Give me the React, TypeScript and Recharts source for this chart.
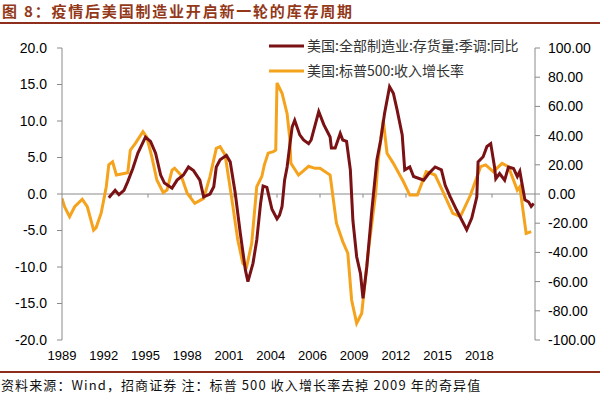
import React from 'react';
import { LineChart, Line, XAxis, YAxis, ReferenceLine } from 'recharts';

// x values are month indices along the axis (0 = left edge of the plot)
const xTickLabels = ['1989', '1992', '1995', '1998', '2001', '2004', '2006', '2009', '2012', '2015', '2018'];
const xTickMonths = [0, 33, 66, 99, 132, 165, 198, 231, 264, 297, 330];
const zeroLineTickMonths = [34, 68, 102, 136, 170, 204, 238, 272, 306, 340];

const leftTicks = [20, 15, 10, 5, 0, -5, -10, -15, -20];
const rightTicks = [100, 80, 60, 40, 20, 0, -20, -40, -60, -80, -100];

// 美国:全部制造业:存货量:季调:同比 (left axis)
const inventoryMonths = [37, 42, 45, 49, 52, 56, 60, 66, 70, 74, 78, 81, 87, 91, 96, 100, 104, 109, 112, 117, 120, 122, 125, 130, 133, 137, 141, 145, 147, 151, 154, 157, 159, 162, 166, 170, 172, 174, 176, 178, 180, 182, 184, 188, 191, 195, 197, 203, 207, 212, 213, 216, 220, 222, 225, 228, 230, 233, 236, 238, 241, 245, 249, 252, 255, 259, 262, 265, 269, 271, 275, 278, 286, 290, 295, 300, 303, 307, 312, 320, 324, 328, 329, 333, 336, 339, 342, 343, 346, 350, 353, 357, 360, 362, 366, 369, 371, 373];
const inventoryYoY = [-0.5, 0.5, -0.1, 0.5, 1.7, 3.5, 5.6, 7.8, 7.2, 5.6, 2.6, 1.5, 0.8, 1.9, 2.6, 3.7, 3.2, 1.9, -0.4, 0, 1, 3.7, 4.7, 5.3, 4.4, 0.1, -5.4, -10.4, -12, -9.5, -6.3, -1.3, 1.1, 0.9, -2.1, -3.4, -2.9, -1.7, 1.9, 3.7, 6.5, 9.2, 10.1, 8.1, 7.4, 6.9, 7.4, 11.3, 9.5, 7.8, 6.3, 6.3, 8.3, 7.4, 7.2, 3.3, -3.6, -8.6, -10.9, -14.3, -10, -2.2, 4.7, 7.4, 11, 14.7, 13.8, 11.5, 8.1, 3.3, 3.7, 2.4, 1.9, 2.8, 3.7, 3.3, 1.2, -0.4, -2.2, -4.9, -3.3, -0.4, 4.4, 5.1, 6.5, 6.9, 3.7, 2.1, 2.8, 1.9, 3.7, 3.5, 2.4, 3.1, -0.8, -1.1, -1.7, -1.3];

// 美国:标普500:收入增长率 (right axis)
const revenueMonths = [0, 2, 6, 10, 16, 20, 25, 27, 31, 35, 37, 40, 43, 47, 52, 54, 58, 64, 67, 71, 75, 80, 83, 87, 89, 94, 99, 105, 112, 117, 122, 125, 129, 134, 139, 143, 146, 150, 154, 158, 160, 163, 167, 169, 170, 174, 178, 180, 181, 187, 195, 200, 204, 212, 217, 222, 226, 229, 233, 237, 242, 248, 250, 254, 257, 262, 270, 275, 281, 288, 295, 300, 309, 315, 323, 331, 335, 341, 348, 353, 360, 362, 367, 371];
const revenueGrowth = [-3, -8.7, -15.5, -8.7, -3.6, -8.7, -24.7, -23, -13, 5, 20, 22, 13, 13.7, 14.6, 30, 34.7, 42.7, 39, 25.6, 9.6, 1, 2.7, 16.4, 17.6, 13, 0.5, -6.4, -3, 11.9, 31.3, 32.4, 26.7, -1.8, -31.5, -47.5, -49.8, -33.8, 5, 12, 20, 28, 29, 30, 76, 69, 55, 39, 21, 13, 19, 17.6, 17.6, 13, -20, -32.6, -40.6, -72.6, -88.6, -81.7, -40.6, 0.5, 23, 50.7, 27.9, 21, 8.4, -0.7, -0.7, 15.3, 13, 3.9, -13.2, -15.5, -0.7, 18.7, 19.9, 15.3, 21, 18.7, 2.7, 5, -27, -25.8];

const seriesNames = ['美国:全部制造业:存货量:季调:同比', '美国:标普500:收入增长率'];
const seriesColors = ['#7a1114', '#f5a21c'];

const inventoryData = inventoryMonths.map((m, i) => ({ m, v: inventoryYoY[i] }));
const revenueData = revenueMonths.map((m, i) => ({ m, v: revenueGrowth[i] }));

const axisGray = '#8a8a8a';
const numFont = '"Liberation Sans", Arial, sans-serif';
const cjkFont = '"Noto Sans CJK SC", "Noto Sans", sans-serif';

const LegendBox = () => (
  <div
    style={{
      position: 'absolute', left: 269, top: 33, fontFamily: cjkFont, fontSize: 14, color: '#333',
      lineHeight: '25px', whiteSpace: 'nowrap',
    }}
  >
    {seriesNames.map((n, i) => (
      <div key={n} style={{ display: 'flex', alignItems: 'center', height: 25 }}>
        <svg width={36} height={6} style={{ marginRight: 2 }}>
          <line x1={0} y1={3} x2={35} y2={3} stroke={seriesColors[i]} strokeWidth={3} />
        </svg>
        <span>{n}</span>
      </div>
    ))}
  </div>
);

export default function App() {
  return (
    <div style={{ position: 'absolute', left: 0, top: 0, width: 600, height: 398, background: '#fff', overflow: 'hidden' }}>
      <div
        style={{
          position: 'absolute', left: 2, top: 1, fontFamily: cjkFont, fontWeight: 700, fontSize: 15,
          letterSpacing: 1.8, color: '#93391a', whiteSpace: 'nowrap', lineHeight: '20px',
        }}
      >
        图 8：疫情后美国制造业开启新一轮的库存周期
      </div>
      <div style={{ position: 'absolute', left: 0, top: 22, width: 600, height: 2, background: '#8e2f1e' }} />
      <div style={{ position: 'absolute', left: 0, top: 0 }}>
        <LineChart width={600} height={398} margin={{ top: 48, right: 0, bottom: 0, left: 0 }}>
          <XAxis
            dataKey="m"
            type="number"
            domain={[0, 374]}
            ticks={xTickMonths}
            interval={0}
            allowDataOverflow
            height={58}
            axisLine={false}
            tickLine={false}
            tickSize={6}
            tickMargin={5}
            tickFormatter={(v: number) => xTickLabels[xTickMonths.indexOf(v)] ?? ''}
            tick={{ fill: '#000', fontSize: 13, fontFamily: numFont }}
          />
          <YAxis
            yAxisId="left"
            orientation="left"
            width={62}
            domain={[-20, 20]}
            ticks={leftTicks}
            interval={0}
            axisLine={{ stroke: axisGray }}
            tickLine={{ stroke: axisGray }}
            tickSize={5}
            tickMargin={10}
            tickFormatter={(v: number) => v.toFixed(1)}
            tick={{ fill: '#000', fontSize: 14, fontFamily: numFont }}
          />
          <YAxis
            yAxisId="right"
            orientation="right"
            width={65}
            domain={[-100, 100]}
            ticks={rightTicks}
            interval={0}
            axisLine={{ stroke: axisGray }}
            tickLine={{ stroke: axisGray }}
            tickSize={5}
            tickMargin={8}
            tickFormatter={(v: number) => v.toFixed(2)}
            tick={{ fill: '#000', fontSize: 14, fontFamily: numFont }}
          />
          <ReferenceLine yAxisId="left" y={0} stroke={axisGray} strokeWidth={1} />
          {zeroLineTickMonths.map((m) => (
            <ReferenceLine
              key={m}
              yAxisId="left"
              stroke={axisGray}
              strokeWidth={1}
              ifOverflow="visible"
              segment={[{ x: m, y: 0 }, { x: m, y: -0.5 }]}
            />
          ))}
          <Line
            yAxisId="right"
            data={revenueData}
            dataKey="v"
            name={seriesNames[1]}
            type="linear"
            stroke={seriesColors[1]}
            strokeWidth={3}
            dot={false}
            isAnimationActive={false}
          />
          <Line
            yAxisId="left"
            data={inventoryData}
            dataKey="v"
            name={seriesNames[0]}
            type="linear"
            stroke={seriesColors[0]}
            strokeWidth={3}
            dot={false}
            isAnimationActive={false}
          />
        </LineChart>
      </div>
      <LegendBox />
      <div style={{ position: 'absolute', left: 0, top: 371, width: 600, height: 1.5, background: '#8e2f1e' }} />
      <div
        style={{
          position: 'absolute', left: 1, top: 376, fontFamily: cjkFont, fontSize: 13, letterSpacing: 1.1,
          color: '#111', whiteSpace: 'nowrap', lineHeight: '18px',
        }}
      >
        资料来源：Wind，招商证券 注：标普 500 收入增长率去掉 2009 年的奇异值
      </div>
    </div>
  );
}
